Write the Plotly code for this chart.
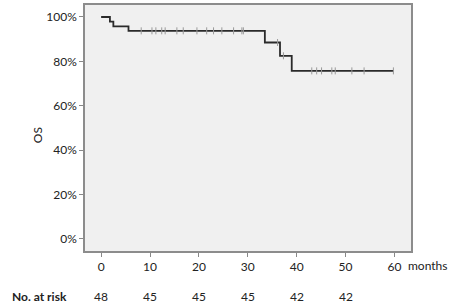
import plotly.graph_objects as go

# Kaplan-Meier steps (months, survival fraction)
step_times = [0, 1.8, 2.5, 5.6, 33.5, 36.6, 39.0, 59.8]
step_surv = [1.0, 0.979, 0.958, 0.9375, 0.885, 0.825, 0.757, 0.757]

# censor marks
censor_times = [8.2, 10.4, 11.2, 12.4, 13.1, 15.5, 16.8, 19.6, 21.6, 23.0, 24.7, 27.1, 28.8, 29.1,
                36.1, 37.3,
                43.1, 44.1, 45.1, 47.2, 47.9, 51.3, 53.8, 59.8]
censor_surv = [0.9375] * 14 + [0.885, 0.825] + [0.757] * 8

x_ticks = [0, 10, 20, 30, 40, 50, 60]
y_ticks = [0, 0.2, 0.4, 0.6, 0.8, 1.0]
risk_times = [0, 10, 20, 30, 40, 50]
risk_counts = [48, 45, 45, 45, 42, 42]

FONT = "Lato, 'Open Sans', sans-serif"
FS = 12

fig = go.Figure()
fig.add_trace(go.Scatter(x=step_times, y=step_surv, mode="lines", line_shape="hv",
                         line=dict(color="#2a2a2a", width=1.8), showlegend=False))
fig.add_trace(go.Scatter(x=censor_times, y=censor_surv, mode="markers",
                         marker=dict(symbol="line-ns", size=5, line=dict(color="#999999", width=1)),
                         showlegend=False))

for t, n in zip(risk_times, risk_counts):
    fig.add_annotation(x=t, y=-0.186, xref="x", yref="paper", text=str(n), showarrow=False,
                       font=dict(family=FONT, size=FS, color="#222"), xanchor="center", yanchor="middle")
fig.add_annotation(x=-0.23, y=-0.186, xref="paper", yref="paper", text="<b>No. at risk</b>",
                   showarrow=False, font=dict(family=FONT, size=FS, color="#222"),
                   xanchor="left", yanchor="middle")
fig.add_annotation(x=62.3, y=-0.058, xref="x", yref="paper", text="months", showarrow=False,
                   font=dict(family=FONT, size=FS, color="#222"), xanchor="left", yanchor="middle")
fig.add_annotation(x=-0.147, y=0.471, xref="paper", yref="paper", text="OS", textangle=-90,
                   showarrow=False, font=dict(family=FONT, size=FS, color="#222"),
                   xanchor="center", yanchor="middle")

fig.update_layout(
    width=454, height=307,
    margin=dict(l=85, r=43, t=3, b=56),
    paper_bgcolor="white", plot_bgcolor="#f0f0f0",
    font=dict(family=FONT, size=FS, color="#222"),
    xaxis=dict(range=[-3.3, 63.4], tickvals=x_ticks, ticks="outside", ticklen=4,
               tickcolor="#888", showgrid=False, zeroline=False, showline=True,
               linecolor="#8c8c8c", linewidth=1.5, mirror=True),
    yaxis=dict(range=[-0.055, 1.054], tickvals=y_ticks, tickformat=".0%", ticks="outside",
               ticklen=4, tickcolor="#888", showgrid=False, zeroline=False, showline=True,
               linecolor="#8c8c8c", linewidth=1.5, mirror=True),
)

fig.write_html("out.html", config={"displayModeBar": False},
               post_script="document.body.style.margin='0';document.body.style.overflow='hidden';")
